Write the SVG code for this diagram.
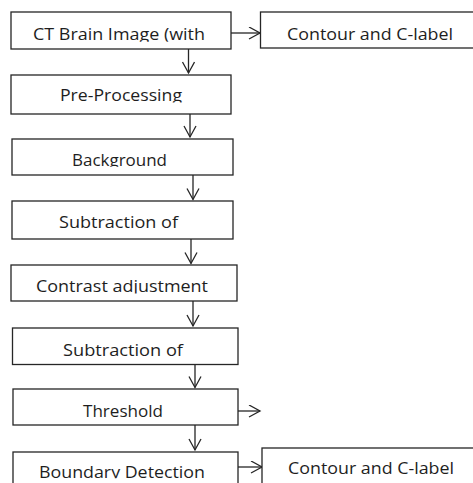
<svg xmlns="http://www.w3.org/2000/svg" width="473" height="483" viewBox="0 0 473 483">
<style>
.box{fill:#fff;stroke:#262626;stroke-width:1.3}
.lbl{font-family:"Open Sans","Noto Sans","DejaVu Sans",sans-serif;font-size:17px;fill:#1e1e1e}
.con{stroke:#262626;stroke-width:1.3;fill:none;marker-end:url(#chev)}
</style>
<defs>
<marker id="chev" markerUnits="userSpaceOnUse" markerWidth="14" markerHeight="14" refX="12" refY="6.5" orient="auto" viewBox="0 0 14 14">
<path d="M1,0.5 L12,6.5 L1,12.5" fill="none" stroke="#262626" stroke-width="1.3"/>
</marker>
<clipPath id="c1"><rect x="0" y="0" width="473" height="41.8"/></clipPath>
<clipPath id="c2"><rect x="0" y="0" width="473" height="102.6"/></clipPath>
<clipPath id="c3"><rect x="0" y="0" width="473" height="166.8"/></clipPath>
<clipPath id="c5"><rect x="0" y="0" width="473" height="293.4"/></clipPath>
<clipPath id="c8"><rect x="0" y="0" width="473" height="478.3"/></clipPath>
</defs>
<rect width="473" height="483" fill="#fff"/>
<g id="connectors">
<line class="con" x1="231" y1="33" x2="260" y2="33"/>
<line class="con" x1="188.5" y1="49" x2="188.5" y2="73"/>
<line class="con" x1="190" y1="114" x2="190" y2="137"/>
<line class="con" x1="193" y1="175" x2="193" y2="199.5"/>
<line class="con" x1="191" y1="239" x2="191" y2="263.5"/>
<line class="con" x1="193" y1="301" x2="193" y2="326"/>
<line class="con" x1="195" y1="364.5" x2="195" y2="387.5"/>
<line class="con" x1="238" y1="411" x2="260" y2="411"/>
<line class="con" x1="195" y1="425" x2="195" y2="450"/>
<line class="con" x1="238" y1="467" x2="262" y2="467"/>
</g>
<g id="n1"><rect class="box" x="11" y="12" width="220" height="37"/><text class="lbl" x="33" y="40" textLength="172" lengthAdjust="spacingAndGlyphs" clip-path="url(#c1)">CT Brain Image (with</text></g>
<g id="n1r"><rect class="box" x="260.5" y="12" width="215" height="36"/><text class="lbl" x="287" y="40" textLength="166" lengthAdjust="spacingAndGlyphs">Contour and C-label</text></g>
<g id="n2"><rect class="box" x="11" y="75" width="220" height="39"/><text class="lbl" x="60" y="101.3" textLength="122" lengthAdjust="spacingAndGlyphs" clip-path="url(#c2)">Pre-Processing</text></g>
<g id="n3"><rect class="box" x="12" y="139" width="221" height="36"/><text class="lbl" x="72" y="165.8" textLength="95" lengthAdjust="spacingAndGlyphs" clip-path="url(#c3)">Background</text></g>
<g id="n4"><rect class="box" x="12" y="201" width="221" height="38"/><text class="lbl" x="59" y="228" textLength="119" lengthAdjust="spacingAndGlyphs">Subtraction  of</text></g>
<g id="n5"><rect class="box" x="11" y="265" width="226" height="36"/><text class="lbl" x="36" y="292.3" textLength="172" lengthAdjust="spacingAndGlyphs" clip-path="url(#c5)">Contrast adjustment</text></g>
<g id="n6"><rect class="box" x="12.5" y="328" width="225.5" height="36.5"/><text class="lbl" x="63" y="356" textLength="120" lengthAdjust="spacingAndGlyphs">Subtraction  of</text></g>
<g id="n7"><rect class="box" x="13" y="389" width="225" height="36"/><text class="lbl" x="83" y="416.7" textLength="80" lengthAdjust="spacingAndGlyphs">Threshold</text></g>
<g id="n8"><rect class="box" x="13" y="452" width="225" height="40"/><text class="lbl" x="39" y="478" textLength="166" lengthAdjust="spacingAndGlyphs" clip-path="url(#c8)">Boundary Detection</text></g>
<g id="n8r"><rect class="box" x="262" y="448" width="215" height="40"/><text class="lbl" x="288" y="474" textLength="166" lengthAdjust="spacingAndGlyphs">Contour and C-label</text></g>
</svg>
